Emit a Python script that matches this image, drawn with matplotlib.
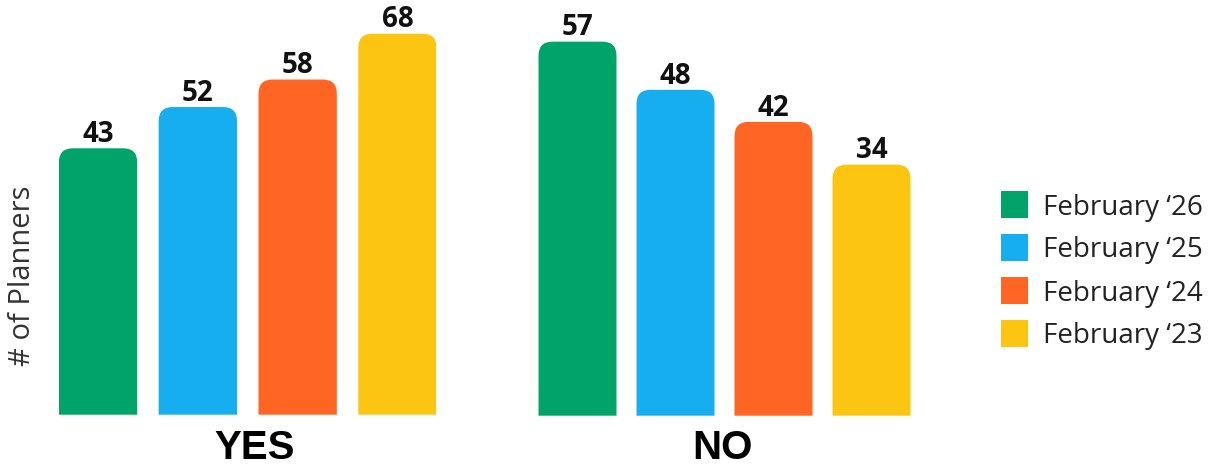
import matplotlib
matplotlib.use("Agg")
import matplotlib.pyplot as plt
from matplotlib.path import Path
from matplotlib.patches import PathPatch, Rectangle

# ---- data ----
groups = ["YES", "NO"]
series = ["February \u201826", "February \u201825", "February \u201824", "February \u201823"]
yes_values = [43, 52, 58, 68]
no_values = [57, 48, 42, 34]
colors = ["#00A46A", "#16AEEF", "#FF6624", "#FBC512"]
ylabel = "# of Planners"

W, H = 1216, 467
fig = plt.figure(figsize=(W / 100, H / 100), dpi=100)
FONT = ["Open Sans", "DejaVu Sans"]


def px_axes(left, right, top, bottom):
    return fig.add_axes([left / W, 1 - bottom / H, (right - left) / W, (bottom - top) / H])


ax_yes = px_axes(59.1, 436.4, 0, 414.7)
ax_yes.set_xlim(-0.39, 3.39)
ax_yes.set_ylim(-15.12, 75.35)

ax_no = px_axes(538.3, 910.7, 0, 415.7)
ax_no.set_xlim(-0.4, 3.4)
ax_no.set_ylim(-12.94, 64.79)


def rounded(ax, rect, r_px, color):
    x0, y0 = rect.get_x(), rect.get_y()
    w, h = rect.get_width(), rect.get_height()
    (a, b) = ax.transData.transform((0, 0))
    (c, d) = ax.transData.transform((1, 1))
    rx = r_px / (c - a)
    ry = r_px / (d - b)
    verts = [(x0, y0), (x0, y0 + h - ry), (x0, y0 + h), (x0 + rx, y0 + h),
             (x0 + w - rx, y0 + h), (x0 + w, y0 + h), (x0 + w, y0 + h - ry),
             (x0 + w, y0), (x0, y0)]
    codes = [Path.MOVETO, Path.LINETO, Path.CURVE3, Path.CURVE3, Path.LINETO,
             Path.CURVE3, Path.CURVE3, Path.LINETO, Path.CLOSEPOLY]
    ax.add_patch(PathPatch(Path(verts, codes), facecolor=color, edgecolor="none"))


for ax, vals, width in [(ax_yes, yes_values, 0.785), (ax_no, no_values, 0.796)]:
    base = ax.get_ylim()[0]
    xs = list(range(len(vals)))
    bars = ax.bar(xs, [v - base for v in vals], bottom=base, width=width, color=colors)
    for rect, col, v, x in zip(bars, colors, vals, xs):
        rect.set_visible(False)
        rounded(ax, rect, 14, col)
        ax.annotate(str(v), (x, v), xytext=(0, 4.5), textcoords="offset points",
                    ha="center", va="baseline", fontsize=20, fontweight="bold",
                    family=FONT, color="#111111", annotation_clip=False)
    ax.axis("off")

# group labels
GFONT = ["Liberation Sans", "DejaVu Sans"]
fig.text(255 / W, 1 - 459 / H, groups[0], ha="center", va="baseline",
         fontsize=29, fontweight="bold", family=GFONT, color="black")
fig.text(722.5 / W, 1 - 459 / H, groups[1], ha="center", va="baseline",
         fontsize=29, fontweight="bold", family=GFONT, color="black")

# y label
fig.text(23 / W, 1 - 276 / H, ylabel, rotation=90, ha="center", va="center",
         fontsize=21, family=FONT, color="#333333")

# legend
for i, (name, col) in enumerate(zip(series, colors)):
    top = 191 + i * 43
    fig.patches.append(Rectangle((1001 / W, 1 - (top + 27) / H), 27 / W, 27 / H,
                                 transform=fig.transFigure, facecolor=col, edgecolor="none"))
    fig.text(1043 / W, 1 - (top + 23.5) / H, name, ha="left", va="baseline",
             fontsize=20, family=FONT, color="#222222")

fig.savefig("out.png", dpi=100)
